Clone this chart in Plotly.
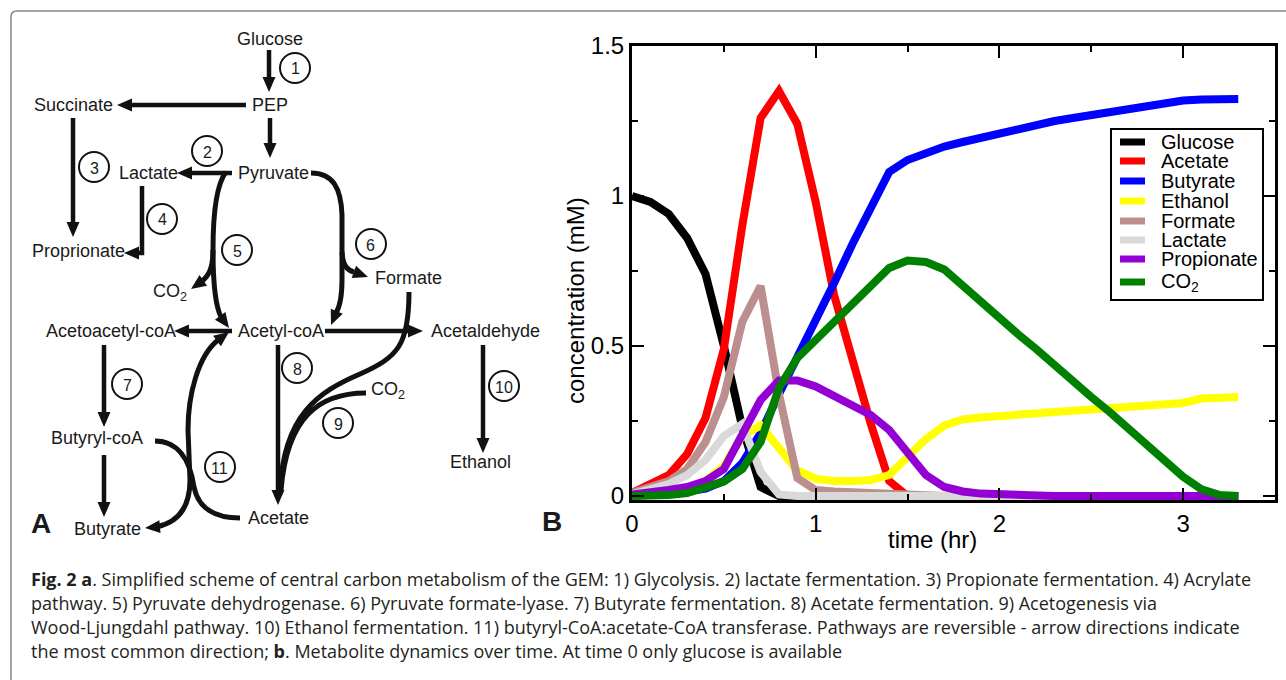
import plotly.graph_objects as go

W, H = 1286, 680

# ---------------- data ----------------
time_hr = [0.0, 0.1, 0.2, 0.3, 0.4, 0.5, 0.6, 0.7, 0.8, 0.9, 1.0, 1.1, 1.2, 1.3, 1.4, 1.5, 1.6,
           1.7, 1.8, 1.9, 2.0, 2.1, 2.2, 2.3, 2.4, 2.5, 2.6, 2.7, 2.8, 2.9, 3.0, 3.1, 3.2, 3.3]

glucose = [1.00, 0.98, 0.94, 0.86, 0.74, 0.50, 0.23, 0.03, 0.0, 0.0, 0.0, 0.0, 0.0, 0.0, 0.0, 0.0, 0.0,
           0.0, 0.0, 0.0, 0.0, 0.0, 0.0, 0.0, 0.0, 0.0, 0.0, 0.0, 0.0, 0.0, 0.0, 0.0, 0.0, 0.0]
acetate = [0.01, 0.04, 0.07, 0.14, 0.26, 0.49, 0.90, 1.26, 1.35, 1.24, 0.98, 0.67, 0.45, 0.24, 0.05, 0.0, 0.0,
           0.0, 0.0, 0.0, 0.0, 0.0, 0.0, 0.0, 0.0, 0.0, 0.0, 0.0, 0.0, 0.0, 0.0, 0.0, 0.0, 0.0]
butyrate = [0.0, 0.003, 0.008, 0.015, 0.025, 0.05, 0.11, 0.21, 0.34, 0.46, 0.58, 0.71, 0.84, 0.96, 1.08, 1.12, 1.145,
            1.165, 1.18, 1.195, 1.21, 1.225, 1.24, 1.25, 1.26, 1.27, 1.28, 1.29, 1.30, 1.31, 1.318, 1.322, 1.323, 1.323]
ethanol = [0.0, 0.005, 0.01, 0.02, 0.05, 0.10, 0.20, 0.235, 0.16, 0.085, 0.058, 0.05, 0.05, 0.053, 0.07, 0.13, 0.19,
           0.235, 0.255, 0.262, 0.268, 0.272, 0.276, 0.28, 0.284, 0.288, 0.29, 0.295, 0.30, 0.305, 0.31, 0.325, 0.33, 0.33]
formate = [0.01, 0.03, 0.05, 0.09, 0.18, 0.33, 0.58, 0.70, 0.34, 0.06, 0.02, 0.015, 0.012, 0.01, 0.005, 0.002, 0.0,
           0.0, 0.0, 0.0, 0.0, 0.0, 0.0, 0.0, 0.0, 0.0, 0.0, 0.0, 0.0, 0.0, 0.0, 0.0, 0.0, 0.0]
lactate = [0.005, 0.02, 0.04, 0.07, 0.12, 0.20, 0.24, 0.08, 0.005, 0.0, 0.0, 0.0, 0.0, 0.0, 0.0, 0.0, 0.0,
           0.0, 0.0, 0.0, 0.0, 0.0, 0.0, 0.0, 0.0, 0.0, 0.0, 0.0, 0.0, 0.0, 0.0, 0.0, 0.0, 0.0]
propionate = [0.005, 0.01, 0.02, 0.03, 0.05, 0.09, 0.20, 0.32, 0.385, 0.385, 0.365, 0.335, 0.30, 0.27, 0.22, 0.15, 0.07,
              0.03, 0.015, 0.008, 0.005, 0.003, 0.0, 0.0, 0.0, 0.0, 0.0, 0.0, 0.0, 0.0, 0.0, 0.0, 0.0, 0.0]
co2 = [0.0, 0.0, 0.003, 0.01, 0.027, 0.048, 0.09, 0.18, 0.36, 0.46, 0.52, 0.58, 0.64, 0.70, 0.76, 0.785, 0.78,
       0.755, 0.70, 0.648, 0.595, 0.54, 0.49, 0.435, 0.385, 0.33, 0.28, 0.225, 0.17, 0.118, 0.064, 0.022, 0.003, 0.0]

series_names = ["Glucose", "Acetate", "Butyrate", "Ethanol", "Formate", "Lactate", "Propionate", "CO<sub>2</sub>"]
series_values = [glucose, acetate, butyrate, ethanol, formate, lactate, propionate, co2]
series_colors = ["#000000", "#ff0000", "#0000ff", "#ffff00", "#bc8f8f", "#d9d9d9", "#9400d3", "#008000"]

x_ticks = [0, 1, 2, 3]
y_ticks = [0, 0.5, 1, 1.5]
y_tick_text = ["0", "0.5", "1", "1.5"]

caption_lines = [
    "<b>Fig. 2 a</b>. Simplified scheme of central carbon metabolism of the GEM: 1) Glycolysis. 2) lactate fermentation. 3) Propionate fermentation. 4) Acrylate",
    "pathway. 5) Pyruvate dehydrogenase. 6) Pyruvate formate-lyase. 7) Butyrate fermentation. 8) Acetate fermentation. 9) Acetogenesis via",
    "Wood-Ljungdahl pathway. 10) Ethanol fermentation. 11) butyryl-CoA:acetate-CoA transferase. Pathways are reversible - arrow directions indicate",
    "the most common direction; <b>b</b>. Metabolite dynamics over time. At time 0 only glucose is available",
]

# ---------------- helpers (pixel -> paper) ----------------
def px(x):
    return x / W

def py(y):
    return 1 - y / H

def P(x, y):
    return f"{px(x):.5f},{py(y):.5f}"

INK = "#111111"
FONT = "Liberation Sans, Arial, sans-serif"
shapes = []
annotations = []

def path(d_pts, width=4.5, color=INK):
    s = ""
    for cmd, pts in d_pts:
        s += cmd + " " + " ".join(P(x, y) for x, y in pts) + " "
    shapes.append(dict(type="path", path=s.strip(), xref="paper", yref="paper",
                       line=dict(color=color, width=width), fillcolor="rgba(0,0,0,0)"))

def head(tx, ty, dx, dy, L=15, w=6.5):
    n = (dx * dx + dy * dy) ** 0.5
    dx, dy = dx / n, dy / n
    bx, by = tx - L * dx, ty - L * dy
    nx, ny = -dy, dx
    s = f"M {P(tx, ty)} L {P(bx + w * nx, by + w * ny)} L {P(bx - w * nx, by - w * ny)} Z"
    shapes.append(dict(type="path", path=s, xref="paper", yref="paper",
                       line=dict(width=0), fillcolor=INK))

def arrow(x0, y0, x1, y1, width=4.5):
    dx, dy = x1 - x0, y1 - y0
    n = (dx * dx + dy * dy) ** 0.5
    ux, uy = dx / n, dy / n
    ex, ey = x1 - 12 * ux, y1 - 12 * uy
    path([("M", [(x0, y0)]), ("L", [(ex, ey)])], width=width)
    head(x1, y1, dx, dy)

def label(x, y, text, size=18, anchor="center", angle=0, color="#1a1a1a", family=FONT):
    annotations.append(dict(x=px(x), y=py(y), xref="paper", yref="paper", text=text, showarrow=False,
                            xanchor=anchor, yanchor="middle", textangle=angle,
                            font=dict(size=size, family=family, color=color)))

def circ(x, y, num, r=15):
    shapes.append(dict(type="circle", xref="paper", yref="paper", x0=px(x - r), x1=px(x + r),
                       y0=py(y + r), y1=py(y - r), line=dict(color=INK, width=2), fillcolor="rgba(0,0,0,0)"))
    label(x, y + 1, num, size=16)

# ---------------- panel A: scheme ----------------
for x, y, t in [(270, 39, "Glucose"), (270, 105, "PEP"), (73, 105, "Succinate"), (273, 173, "Pyruvate"),
                (148, 173, "Lactate"), (78, 251, "Proprionate"), (170, 292, "CO<sub>2</sub>"),
                (408, 278, "Formate"), (111, 331, "Acetoacetyl-coA"), (281, 331, "Acetyl-coA"),
                (485, 331, "Acetaldehyde"), (388, 390, "CO<sub>2</sub>"), (97, 438, "Butyryl-coA"),
                (480, 462, "Ethanol"), (107, 529, "Butyrate"), (278, 518, "Acetate")]:
    label(x, y, t)

arrow(269, 50, 269, 92)
arrow(246, 105, 117, 105)
arrow(270, 118, 270, 158)
arrow(232, 173, 177, 173)
arrow(73, 118, 73, 237)
path([("M", [(142, 186)]), ("L", [(142, 253)]), ("L", [(136, 253)])])
head(124, 253, -1, 0)
arrow(232, 331, 174, 331)
arrow(325, 331, 423, 331)
arrow(104, 345, 104, 427)
arrow(104, 455, 104, 517)
arrow(278, 345, 278, 505)
arrow(483, 345, 483, 453)

# pathway 5 (pyruvate -> acetyl-coA + CO2)
path([("M", [(226, 172)]), ("C", [(216, 185), (213, 215), (213, 250)]),
      ("C", [(213, 285), (215, 305), (221, 317)])], width=5)
head(229, 328, 8, 11)
path([("M", [(213, 250)]), ("C", [(213, 268), (209, 276), (201, 282)])], width=5)
head(191, 289, -10, 7)
# pathway 6 (pyruvate -> acetyl-coA + formate)
path([("M", [(311, 173)]), ("C", [(333, 173), (341, 188), (342, 215)]), ("L", [(342, 280)]),
      ("C", [(342, 298), (339, 308), (336, 313)])], width=5)
head(331, 325, -5, 12)
path([("M", [(342, 252)]), ("C", [(343, 266), (347, 270), (354, 272)])], width=5)
head(368, 277, 14, 5)
# pathway 9 (formate + CO2 -> acetate)
path([("M", [(409, 292)]), ("C", [(409, 345), (398, 357), (360, 374)]),
      ("C", [(318, 392), (284, 415), (280, 490)])], width=5)
path([("M", [(366, 393)]), ("C", [(318, 393), (287, 418), (281, 490)])], width=5)
# pathway 11
path([("M", [(155, 441)]), ("C", [(178, 441), (190, 460), (194, 487)]),
      ("C", [(198, 508), (215, 518), (240, 518)])], width=5)
path([("M", [(156, 527)]), ("C", [(176, 523), (190, 510), (190, 480)]), ("L", [(188, 430)]),
      ("C", [(188, 395), (198, 356), (218, 340)])], width=5)
head(229, 332, 12, -9)
head(145, 528, -11, 1)

for x, y, n in [(295, 68, "1"), (207, 151, "2"), (94, 167, "3"), (162, 219, "4"), (237, 250, "5"),
                (371, 244, "6"), (127, 384, "7"), (297, 368, "8"), (338, 423, "9"), (504, 386, "10"),
                (220, 467, "11")]:
    circ(x, y, n)

label(41, 523, "<b>A</b>", size=28)
label(552, 521, "<b>B</b>", size=28)

# outer frame
shapes.append(dict(type="path", xref="paper", yref="paper",
                   path=f"M {P(11, 680)} L {P(11, 17)} Q {P(11, 11)} {P(17, 11)} L {P(1286, 11)}",
                   line=dict(color="#858585", width=1.5), fillcolor="rgba(0,0,0,0)"))

# caption
for i, line in enumerate(caption_lines):
    label(29, 579 + 24 * i, line, size=18, anchor="left", family="Open Sans, sans-serif", color="#231f20")

# ---------------- panel B: chart ----------------
fig = go.Figure()
for name, vals, col in zip(series_names, series_values, series_colors):
    fig.add_trace(go.Scatter(x=time_hr, y=vals, mode="lines", name=name,
                             line=dict(color=col, width=8), showlegend=False))

# manual legend (box, keys, labels)
shapes.append(dict(type="rect", xref="paper", yref="paper", x0=px(1111), x1=px(1263), y0=py(300), y1=py(129),
                   line=dict(color="black", width=2), fillcolor="white"))
leg_y = [142, 161, 181, 201, 221, 240, 259, 282]
for name, col, yy in zip(series_names, series_colors, leg_y):
    shapes.append(dict(type="line", xref="paper", yref="paper", x0=px(1120), x1=px(1145), y0=py(yy), y1=py(yy),
                       line=dict(color=col, width=7)))
    label(1159, yy, name, size=20, anchor="left", color="black")

# axis titles
label(932, 539, "time (hr)", size=24, color="black")
label(575, 301, "concentration (mM)", size=24, angle=-90, color="black")

axis_common = dict(showline=True, linewidth=3, linecolor="black", mirror="ticks", ticks="inside",
                   ticklen=12, tickwidth=2, tickcolor="black", showgrid=False, zeroline=False,
                   automargin=False, tickfont=dict(size=24, family=FONT, color="black"))
fig.update_layout(
    width=W, height=H, autosize=False, margin=dict(l=0, r=0, t=0, b=0, pad=0),
    paper_bgcolor="white", plot_bgcolor="white",
    xaxis=dict(domain=[632 / W, 1275 / W], range=[0, 3.5], tickmode="array", tickvals=x_ticks,
               minor=dict(ticks="inside", ticklen=6, tickwidth=2, tickcolor="black", dtick=0.5, tick0=0),
               **axis_common),
    yaxis=dict(domain=[(H - 500) / H, (H - 46) / H], range=[-0.0133, 1.5], tickmode="array",
               tickvals=y_ticks, ticktext=y_tick_text,
               minor=dict(ticks="inside", ticklen=6, tickwidth=2, tickcolor="black", dtick=0.25, tick0=0),
               **axis_common),
    shapes=shapes, annotations=annotations,
)

fig.write_html("out.html", config={"displayModeBar": False},
               post_script="document.body.style.margin='0px';document.body.style.overflow='hidden';")
